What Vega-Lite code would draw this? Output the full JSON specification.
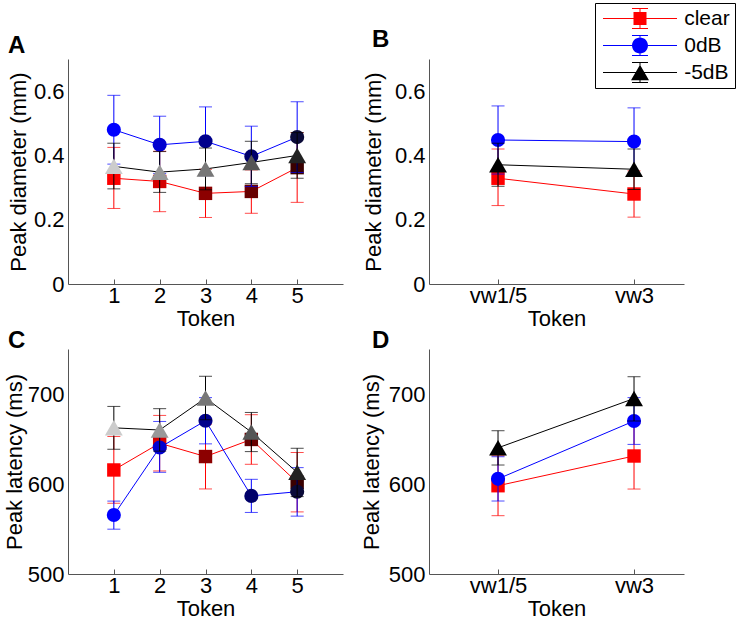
{
  "$schema": "https://vega.github.io/schema/vega-lite/v6.json",
  "padding": {"left": 3, "top": 2, "right": 0, "bottom": 0},
  "background": "white",
  "datasets": {
    "diamToken": [
      {"condition": "clear", "token": 1, "mean": 0.329, "lo": 0.235, "hi": 0.425},
      {"condition": "clear", "token": 2, "mean": 0.319, "lo": 0.225, "hi": 0.413},
      {"condition": "clear", "token": 3, "mean": 0.282, "lo": 0.207, "hi": 0.357},
      {"condition": "clear", "token": 4, "mean": 0.288, "lo": 0.220, "hi": 0.355},
      {"condition": "clear", "token": 5, "mean": 0.362, "lo": 0.254, "hi": 0.471},
      {"condition": "0dB", "token": 1, "mean": 0.480, "lo": 0.373, "hi": 0.587},
      {"condition": "0dB", "token": 2, "mean": 0.433, "lo": 0.344, "hi": 0.522},
      {"condition": "0dB", "token": 3, "mean": 0.444, "lo": 0.337, "hi": 0.551},
      {"condition": "0dB", "token": 4, "mean": 0.397, "lo": 0.303, "hi": 0.491},
      {"condition": "0dB", "token": 5, "mean": 0.457, "lo": 0.347, "hi": 0.567},
      {"condition": "-5dB", "token": 1, "mean": 0.366, "lo": 0.296, "hi": 0.438},
      {"condition": "-5dB", "token": 2, "mean": 0.348, "lo": 0.285, "hi": 0.412},
      {"condition": "-5dB", "token": 3, "mean": 0.358, "lo": 0.293, "hi": 0.423},
      {"condition": "-5dB", "token": 4, "mean": 0.378, "lo": 0.312, "hi": 0.444},
      {"condition": "-5dB", "token": 5, "mean": 0.400, "lo": 0.329, "hi": 0.471}
    ],
    "diamVw": [
      {"condition": "clear", "token": "vw1/5", "mean": 0.329, "lo": 0.244, "hi": 0.420},
      {"condition": "clear", "token": "vw3", "mean": 0.280, "lo": 0.208, "hi": 0.352},
      {"condition": "0dB", "token": "vw1/5", "mean": 0.448, "lo": 0.342, "hi": 0.554},
      {"condition": "0dB", "token": "vw3", "mean": 0.443, "lo": 0.338, "hi": 0.548},
      {"condition": "-5dB", "token": "vw1/5", "mean": 0.371, "lo": 0.304, "hi": 0.438},
      {"condition": "-5dB", "token": "vw3", "mean": 0.357, "lo": 0.294, "hi": 0.420}
    ],
    "latToken": [
      {"condition": "clear", "token": 1, "mean": 615.6, "lo": 578.6, "hi": 652.8},
      {"condition": "clear", "token": 2, "mean": 645.3, "lo": 614.5, "hi": 676.2},
      {"condition": "clear", "token": 3, "mean": 630.5, "lo": 594.5, "hi": 666.5},
      {"condition": "clear", "token": 4, "mean": 649.5, "lo": 621.9, "hi": 677.0},
      {"condition": "clear", "token": 5, "mean": 601.8, "lo": 569.0, "hi": 635.0},
      {"condition": "0dB", "token": 1, "mean": 565.5, "lo": 549.8, "hi": 581.0},
      {"condition": "0dB", "token": 2, "mean": 640.5, "lo": 613.0, "hi": 669.5},
      {"condition": "0dB", "token": 3, "mean": 670.3, "lo": 644.6, "hi": 696.0},
      {"condition": "0dB", "token": 4, "mean": 586.8, "lo": 568.4, "hi": 605.2},
      {"condition": "0dB", "token": 5, "mean": 591.4, "lo": 564.3, "hi": 618.2},
      {"condition": "-5dB", "token": 1, "mean": 662.4, "lo": 638.6, "hi": 686.2},
      {"condition": "-5dB", "token": 2, "mean": 660.0, "lo": 636.5, "hi": 683.7},
      {"condition": "-5dB", "token": 3, "mean": 695.5, "lo": 671.4, "hi": 719.7},
      {"condition": "-5dB", "token": 4, "mean": 657.7, "lo": 636.0, "hi": 679.5},
      {"condition": "-5dB", "token": 5, "mean": 613.0, "lo": 586.0, "hi": 639.7}
    ],
    "latVw": [
      {"condition": "clear", "token": "vw1/5", "mean": 598.1, "lo": 564.8, "hi": 631.4},
      {"condition": "clear", "token": "vw3", "mean": 631.1, "lo": 594.4, "hi": 667.8},
      {"condition": "0dB", "token": "vw1/5", "mean": 605.7, "lo": 581.1, "hi": 630.3},
      {"condition": "0dB", "token": "vw3", "mean": 670.0, "lo": 644.0, "hi": 696.0},
      {"condition": "-5dB", "token": "vw1/5", "mean": 640.2, "lo": 621.1, "hi": 659.2},
      {"condition": "-5dB", "token": "vw3", "mean": 695.0, "lo": 670.0, "hi": 719.2}
    ]
  },
  "columns": 2,
  "bounds": "flush",
  "spacing": {"row": 65, "column": 86},
  "resolve": {"legend": {"color": "independent", "shape": "independent"}},
  "concat": [
    {
      "width": 275, "height": 225,
      "title": {"text": "A", "anchor": "start", "frame": "group", "dx": -60, "dy": 24, "offset": 6, "baseline": "alphabetic", "fontSize": 24, "fontWeight": "bold", "color": "black"},
      "data": {"name": "diamToken"},
      "encoding": {
        "x": {"field": "token", "type": "quantitative", "scale": {"domain": [0, 6], "nice": false}, "axis": {"title": "Token", "values": [1, 2, 3, 4, 5], "format": "d"}},
        "y": {"field": "mean", "type": "quantitative", "scale": {"domain": [0, 0.7], "nice": false}, "axis": {"title": "Peak diameter (mm)", "values": [0, 0.2, 0.4, 0.6], "format": "~g"}}
      },
      "resolve": {"scale": {"fill": "independent"}},
      "layer": [
        {"transform": [{"filter": "datum.condition === 'clear'"}], "layer": [
          {"mark": {"type": "errorbar", "color": "#FF0000", "ticks": {"size": 13}}, "encoding": {"y": {"field": "lo", "type": "quantitative", "scale": {"domain": [0, 0.7], "nice": false}}, "y2": {"field": "hi"}}},
          {"mark": {"type": "line", "color": "#FF0000", "strokeWidth": 1}},
          {"mark": {"type": "point", "shape": "square", "filled": true, "size": 180, "opacity": 1}, "encoding": {"fill": {"field": "token", "type": "ordinal", "scale": {"domain": [1, 2, 3, 4, 5], "range": ["#FF0000", "#D40000", "#8C0000", "#680000", "#3A0000"]}, "legend": null}}}
        ]},
        {"transform": [{"filter": "datum.condition === '0dB'"}], "layer": [
          {"mark": {"type": "errorbar", "color": "#0000FF", "ticks": {"size": 13}}, "encoding": {"y": {"field": "lo", "type": "quantitative", "scale": {"domain": [0, 0.7], "nice": false}}, "y2": {"field": "hi"}}},
          {"mark": {"type": "line", "color": "#0000FF", "strokeWidth": 1}},
          {"mark": {"type": "point", "shape": "circle", "filled": true, "size": 200, "opacity": 1}, "encoding": {"fill": {"field": "token", "type": "ordinal", "scale": {"domain": [1, 2, 3, 4, 5], "range": ["#0000FF", "#0000D0", "#00008C", "#00006A", "#0A0A38"]}, "legend": null}}}
        ]},
        {"transform": [{"filter": "datum.condition === '-5dB'"}], "layer": [
          {"mark": {"type": "errorbar", "color": "#000000", "ticks": {"size": 13}}, "encoding": {"y": {"field": "lo", "type": "quantitative", "scale": {"domain": [0, 0.7], "nice": false}}, "y2": {"field": "hi"}}},
          {"mark": {"type": "line", "color": "#000000", "strokeWidth": 1}},
          {"mark": {"type": "point", "shape": "triangle-up", "filled": true, "size": 320, "opacity": 1}, "encoding": {"fill": {"field": "token", "type": "ordinal", "scale": {"domain": [1, 2, 3, 4, 5], "range": ["#CCCCCC", "#999999", "#777777", "#555555", "#222222"]}, "legend": null}}}
        ]}
      ]
    },
    {
      "width": 255, "height": 225,
      "title": {"text": "B", "anchor": "start", "frame": "group", "dx": -57, "dy": 74, "offset": 6, "baseline": "alphabetic", "fontSize": 24, "fontWeight": "bold", "color": "black"},
      "data": {"name": "diamVw"},
      "encoding": {
        "x": {"field": "token", "type": "ordinal", "scale": {"type": "point", "domain": ["vw1/5", "vw3"], "padding": 0.4375, "align": 0.58}, "axis": {"title": "Token", "labelAngle": 0}},
        "y": {"field": "mean", "type": "quantitative", "scale": {"domain": [0, 0.7], "nice": false}, "axis": {"title": "Peak diameter (mm)", "values": [0, 0.2, 0.4, 0.6], "format": "~g", "titlePadding": 9}}
      },
      "layer": [
        {"transform": [{"filter": "datum.condition === 'clear'"}], "layer": [
          {"mark": {"type": "errorbar", "color": "#FF0000", "ticks": {"size": 13}}, "encoding": {"y": {"field": "lo", "type": "quantitative", "scale": {"domain": [0, 0.7], "nice": false}}, "y2": {"field": "hi"}}},
          {"mark": {"type": "line", "color": "#FF0000", "strokeWidth": 1}},
          {"mark": {"type": "point", "shape": "square", "filled": true, "color": "#FF0000", "size": 180, "opacity": 1}}
        ]},
        {"transform": [{"filter": "datum.condition === '0dB'"}], "layer": [
          {"mark": {"type": "errorbar", "color": "#0000FF", "ticks": {"size": 13}}, "encoding": {"y": {"field": "lo", "type": "quantitative", "scale": {"domain": [0, 0.7], "nice": false}}, "y2": {"field": "hi"}}},
          {"mark": {"type": "line", "color": "#0000FF", "strokeWidth": 1}},
          {"mark": {"type": "point", "shape": "circle", "filled": true, "color": "#0000FF", "size": 200, "opacity": 1}}
        ]},
        {"transform": [{"filter": "datum.condition === '-5dB'"}], "layer": [
          {"mark": {"type": "errorbar", "color": "#000000", "ticks": {"size": 13}}, "encoding": {"y": {"field": "lo", "type": "quantitative", "scale": {"domain": [0, 0.7], "nice": false}}, "y2": {"field": "hi"}}},
          {"mark": {"type": "line", "color": "#000000", "strokeWidth": 1}},
          {"mark": {"type": "point", "shape": "triangle-up", "filled": true, "color": "#000000", "size": 320, "opacity": 1}}
        ]},
        {"transform": [{"filter": "false"}],
         "mark": {"type": "point", "filled": true},
         "encoding": {
           "color": {"field": "condition", "type": "nominal", "scale": {"domain": ["clear", "0dB", "-5dB"], "range": ["#FF0000", "#0000FF", "#000000"]},
             "legend": {"title": null, "orient": "none", "legendX": 166, "legendY": -56, "padding": 5, "symbolSize": 256, "symbolStrokeWidth": 0, "symbolOpacity": 1, "rowPadding": 5, "symbolOffset": 29.5, "labelOffset": 33.7, "labelFontSize": 21, "labelColor": "black", "strokeColor": "black", "fillColor": "white"}},
           "shape": {"field": "condition", "type": "nominal", "scale": {"domain": ["clear", "0dB", "-5dB"], "range": [
             "M-4.625,-0.0625H4.625V0.0625H-4.625Z M-0.0625,-1.25H0.0625V1.25H-0.0625Z M-1,-1.3125H1V-1.1875H-1Z M-1,1.1875H1V1.3125H-1Z M-0.8125,-0.8125H0.8125V0.8125H-0.8125Z",
             "M-4.625,-0.0625H4.625V0.0625H-4.625Z M-0.0625,-1.25H0.0625V1.25H-0.0625Z M-1,-1.3125H1V-1.1875H-1Z M-1,1.1875H1V1.3125H-1Z M-1,0A1,1,0,1,1,1,0A1,1,0,1,1,-1,0Z",
             "M-4.625,-0.0625H4.625V0.0625H-4.625Z M-0.0625,-1.25H0.0625V1.25H-0.0625Z M-1,-1.3125H1V-1.1875H-1Z M-1,1.1875H1V1.3125H-1Z M0,-0.975L1.125,0.975H-1.125Z"]},
             "legend": {"title": null, "orient": "none", "legendX": 166, "legendY": -56, "padding": 5, "symbolSize": 256, "symbolStrokeWidth": 0, "symbolOpacity": 1, "rowPadding": 5, "symbolOffset": 29.5, "labelOffset": 33.7, "labelFontSize": 21, "labelColor": "black", "strokeColor": "black", "fillColor": "white"}}
         }}
      ]
    },
    {
      "width": 275, "height": 225,
      "title": {"text": "C", "anchor": "start", "frame": "group", "dx": -60, "dy": 29, "offset": 6, "baseline": "alphabetic", "fontSize": 24, "fontWeight": "bold", "color": "black"},
      "data": {"name": "latToken"},
      "encoding": {
        "x": {"field": "token", "type": "quantitative", "scale": {"domain": [0, 6], "nice": false}, "axis": {"title": "Token", "values": [1, 2, 3, 4, 5], "format": "d"}},
        "y": {"field": "mean", "type": "quantitative", "scale": {"domain": [500, 750], "nice": false}, "axis": {"title": "Peak latency (ms)", "values": [500, 600, 700], "format": "d", "titlePadding": 1}}
      },
      "resolve": {"scale": {"fill": "independent"}},
      "layer": [
        {"transform": [{"filter": "datum.condition === 'clear'"}], "layer": [
          {"mark": {"type": "errorbar", "color": "#FF0000", "ticks": {"size": 13}}, "encoding": {"y": {"field": "lo", "type": "quantitative", "scale": {"domain": [500, 750], "nice": false}}, "y2": {"field": "hi"}}},
          {"mark": {"type": "line", "color": "#FF0000", "strokeWidth": 1}},
          {"mark": {"type": "point", "shape": "square", "filled": true, "size": 180, "opacity": 1}, "encoding": {"fill": {"field": "token", "type": "ordinal", "scale": {"domain": [1, 2, 3, 4, 5], "range": ["#FF0000", "#D40000", "#8C0000", "#680000", "#3A0000"]}, "legend": null}}}
        ]},
        {"transform": [{"filter": "datum.condition === '0dB'"}], "layer": [
          {"mark": {"type": "errorbar", "color": "#0000FF", "ticks": {"size": 13}}, "encoding": {"y": {"field": "lo", "type": "quantitative", "scale": {"domain": [500, 750], "nice": false}}, "y2": {"field": "hi"}}},
          {"mark": {"type": "line", "color": "#0000FF", "strokeWidth": 1}},
          {"mark": {"type": "point", "shape": "circle", "filled": true, "size": 200, "opacity": 1}, "encoding": {"fill": {"field": "token", "type": "ordinal", "scale": {"domain": [1, 2, 3, 4, 5], "range": ["#0000FF", "#0000D0", "#00008C", "#00006A", "#0A0A38"]}, "legend": null}}}
        ]},
        {"transform": [{"filter": "datum.condition === '-5dB'"}], "layer": [
          {"mark": {"type": "errorbar", "color": "#000000", "ticks": {"size": 13}}, "encoding": {"y": {"field": "lo", "type": "quantitative", "scale": {"domain": [500, 750], "nice": false}}, "y2": {"field": "hi"}}},
          {"mark": {"type": "line", "color": "#000000", "strokeWidth": 1}},
          {"mark": {"type": "point", "shape": "triangle-up", "filled": true, "size": 320, "opacity": 1}, "encoding": {"fill": {"field": "token", "type": "ordinal", "scale": {"domain": [1, 2, 3, 4, 5], "range": ["#CCCCCC", "#999999", "#777777", "#555555", "#222222"]}, "legend": null}}}
        ]}
      ]
    },
    {
      "width": 255, "height": 225,
      "title": {"text": "D", "anchor": "start", "frame": "group", "dx": -57, "dy": 29, "offset": 6, "baseline": "alphabetic", "fontSize": 24, "fontWeight": "bold", "color": "black"},
      "data": {"name": "latVw"},
      "encoding": {
        "x": {"field": "token", "type": "ordinal", "scale": {"type": "point", "domain": ["vw1/5", "vw3"], "padding": 0.4375, "align": 0.58}, "axis": {"title": "Token", "labelAngle": 0}},
        "y": {"field": "mean", "type": "quantitative", "scale": {"domain": [500, 750], "nice": false}, "axis": {"title": "Peak latency (ms)", "values": [500, 600, 700], "format": "d", "titlePadding": 5}}
      },
      "layer": [
        {"transform": [{"filter": "datum.condition === 'clear'"}], "layer": [
          {"mark": {"type": "errorbar", "color": "#FF0000", "ticks": {"size": 13}}, "encoding": {"y": {"field": "lo", "type": "quantitative", "scale": {"domain": [500, 750], "nice": false}}, "y2": {"field": "hi"}}},
          {"mark": {"type": "line", "color": "#FF0000", "strokeWidth": 1}},
          {"mark": {"type": "point", "shape": "square", "filled": true, "color": "#FF0000", "size": 180, "opacity": 1}}
        ]},
        {"transform": [{"filter": "datum.condition === '0dB'"}], "layer": [
          {"mark": {"type": "errorbar", "color": "#0000FF", "ticks": {"size": 13}}, "encoding": {"y": {"field": "lo", "type": "quantitative", "scale": {"domain": [500, 750], "nice": false}}, "y2": {"field": "hi"}}},
          {"mark": {"type": "line", "color": "#0000FF", "strokeWidth": 1}},
          {"mark": {"type": "point", "shape": "circle", "filled": true, "color": "#0000FF", "size": 200, "opacity": 1}}
        ]},
        {"transform": [{"filter": "datum.condition === '-5dB'"}], "layer": [
          {"mark": {"type": "errorbar", "color": "#000000", "ticks": {"size": 13}}, "encoding": {"y": {"field": "lo", "type": "quantitative", "scale": {"domain": [500, 750], "nice": false}}, "y2": {"field": "hi"}}},
          {"mark": {"type": "line", "color": "#000000", "strokeWidth": 1}},
          {"mark": {"type": "point", "shape": "triangle-up", "filled": true, "color": "#000000", "size": 320, "opacity": 1}}
        ]}
      ]
    }
  ],
  "config": {
    "font": "Liberation Sans",
    "view": {"stroke": null},
    "axis": {"grid": false, "domainColor": "#555555", "tickColor": "#555555", "labelColor": "black", "titleColor": "black", "labelFontSize": 22, "titleFontSize": 22, "titleFontWeight": "normal", "labelFont": "Liberation Sans", "titleFont": "Liberation Sans"},
    "axisX": {"tickSize": -5, "labelPadding": 6, "titlePadding": 2},
    "axisY": {"ticks": false, "labelPadding": 4, "titlePadding": 3},
    "legend": {"labelFont": "Liberation Sans"},
    "title": {"font": "Liberation Sans"}
  }
}
